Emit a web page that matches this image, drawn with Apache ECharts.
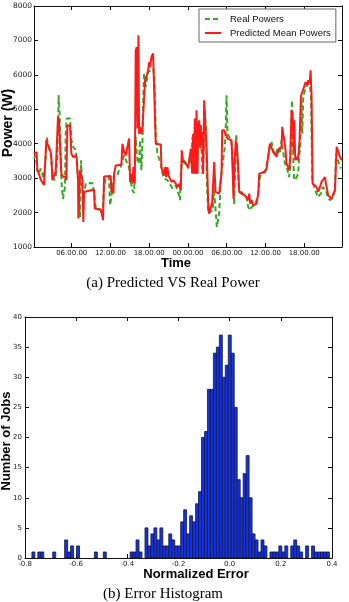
<!DOCTYPE html>
<html>
<head>
<meta charset="utf-8">
<script src="https://cdn.jsdelivr.net/npm/echarts@6/dist/echarts.min.js"></script>
<style>
html,body{margin:0;padding:0;background:#fff;}
#chart{width:349px;height:602px;}
</style>
</head>
<body>
<div id="chart"></div>
<script>
// ---------- Data: (a) Predicted VS Real Power ----------
const timeTickHours = [6, 12, 18, 24, 30, 36, 42];
const timeTickLabels = ['06.00.00', '12.00.00', '18.00.00', '00.00.00', '06.00.00', '12.00.00', '18.00.00'];

const realTimes = [0.16,0.42,0.68,0.93,1.19,1.45,1.71,1.97,2.12,2.33,2.48,2.74,3.0,3.26,3.52,3.78,3.98,4.14,4.29,4.45,4.65,4.81,4.96,5.07,5.22,5.48,5.74,5.95,6.25,6.46,6.67,6.77,6.98,7.13,7.29,7.44,7.65,7.91,8.17,9.2,9.46,9.72,10.49,10.75,11.01,11.27,11.78,11.94,12.14,12.35,12.56,13.07,13.33,13.59,13.85,14.11,14.62,14.88,15.14,15.4,15.66,15.91,16.17,16.43,16.59,16.79,16.95,17.1,17.2,17.46,17.62,17.83,17.98,18.24,18.5,18.65,18.86,19.01,19.27,19.53,19.79,20.05,20.3,20.56,20.82,21.08,21.34,21.6,21.85,22.11,22.37,22.63,22.78,22.89,23.04,23.4,23.92,
  24.03,24.29,24.55,24.7,24.8,24.96,25.06,25.22,25.37,25.48,25.58,25.73,25.89,26.1,26.25,26.41,26.61,26.77,26.92,27.13,27.85,28.01,28.16,28.32,28.47,28.68,28.83,28.99,29.09,29.3,29.51,29.71,29.87,29.97,30.12,30.38,30.64,30.85,31.0,31.16,31.31,31.47,31.67,31.88,32.19,32.55,32.81,33.07,33.33,33.59,33.84,34.1,34.36,34.62,34.88,35.14,35.39,35.65,36.01,36.43,36.68,36.94,37.2,37.46,37.72,37.98,38.23,38.49,38.65,38.91,39.11,39.42,39.63,39.79,39.94,40.1,40.25,40.41,40.56,40.82,41.08,41.23,41.39,41.54,41.7,41.85,42.11,42.37,42.62,42.88,43.04,43.25,43.56,43.82,44.07,44.33,44.59,44.85,45.1,45.36,45.62,45.98,46.24,46.5,46.76,46.92,47.17,47.38,47.69];
const realPowers = [3570,3660,3230,3130,3280,3130,2990,3610,4190,4000,3860,3710,3230,2940,3030,3610,5410,4780,3420,2790,2400,2360,2740,4290,4730,4680,4730,4100,3900,3860,3810,3520,2940,2260,1870,3520,2740,2550,2840,2860,2600,2120,2070,1920,2740,3030,3030,2210,2450,2790,3080,3080,3230,3320,3520,3660,3420,3320,2890,2650,2570,4200,3520,3420,4100,3230,4000,5450,6040,5650,5840,6080,6040,6130,6180,6180,5650,4290,3710,3660,3420,3130,2990,3030,2940,2890,2790,2700,2740,2790,2650,2500,2360,3130,3420,3520,3370,
  3280,3320,3620,4200,3320,3620,4490,3130,4290,3520,4200,4000,4490,3810,3130,3620,4970,4490,3030,1970,2070,2740,2360,1970,1580,1580,1970,2550,3030,3320,3620,3900,4580,5410,4290,4200,4100,3900,3030,2230,3320,4290,3620,2740,2600,2550,2600,2450,2160,2070,2160,2110,2210,2360,2550,3030,3130,3180,3230,3620,3910,4050,3810,3660,3710,3900,3710,4100,3900,3520,3370,3230,3030,3230,4000,5260,4000,3030,2940,3030,3130,3710,3810,5260,4290,5360,5550,5600,5750,5650,5450,2940,2740,2600,2450,2400,2550,2740,2790,2650,2450,2360,2310,2450,2650,3710,3760,3420,3280];

const predTimes = [0.16,0.57,0.68,0.93,1.19,1.71,1.97,2.07,2.23,2.48,2.74,2.85,3.0,3.26,3.52,3.78,3.88,4.03,4.29,4.40,4.71,5.07,5.17,5.33,5.58,5.74,5.95,6.25,6.62,6.77,6.98,7.03,7.13,7.29,7.49,7.65,7.8,7.91,8.17,9.46,9.56,10.49,10.65,10.85,11.01,12.04,12.14,12.3,12.45,12.56,12.81,13.69,13.85,14.11,14.36,14.62,14.88,15.04,15.14,15.4,15.55,15.76,15.91,16.07,16.17,16.33,16.43,16.59,16.79,16.95,17.2,17.36,17.62,17.83,17.98,18.14,18.34,18.6,18.86,19.01,19.79,19.89,20.15,20.3,20.46,20.61,20.82,20.98,21.23,21.44,21.75,22.11,22.37,22.63,22.89,23.04,23.25,23.66,
  24.03,24.29,24.44,24.65,24.8,24.96,25.06,25.22,25.32,25.48,25.58,25.73,25.89,25.99,26.1,26.25,26.35,26.51,26.72,26.92,27.13,27.28,27.54,27.75,27.9,28.06,28.16,28.27,28.83,29.04,29.2,29.3,29.61,29.82,30.12,30.74,30.9,31.05,31.16,31.42,31.57,31.78,31.93,32.29,32.81,33.07,33.33,33.48,33.64,33.84,34.1,34.62,34.88,35.03,35.91,36.17,36.43,36.68,36.94,37.2,37.46,37.72,37.98,38.23,38.49,38.6,38.75,38.91,39.06,39.27,39.53,39.68,39.84,40.04,40.2,40.35,40.46,40.61,40.82,40.97,41.13,41.28,41.39,41.49,41.59,41.8,42.01,42.21,42.42,42.62,42.83,42.99,43.14,43.3,43.56,43.92,44.17,44.43,44.69,44.95,45.21,45.47,45.72,45.98,46.24,46.5,46.76,47.02,47.27,47.53,47.79];
const predPowers = [3700,3760,3230,3130,2960,2800,2850,4100,4000,3900,3760,3610,2940,2890,3180,3130,4780,4680,4700,3130,3030,3030,2940,4530,4580,4530,3710,3610,3660,3570,2940,1830,1780,3230,3180,2940,1730,2600,2650,2670,2120,2090,1970,1780,3050,3060,2600,2740,2550,3130,3370,3390,4000,3760,3660,3620,4150,2890,3130,2840,3320,2840,6710,6810,4440,7150,4290,4490,4290,4440,4390,5840,5990,6130,6370,6230,6520,6620,6670,4000,3980,3320,3280,3080,3320,3030,3320,3080,3130,2890,2940,2840,2740,2840,2650,3810,3470,3420,
  3320,3350,3860,3130,4290,3130,4730,3130,4970,3130,4490,4680,3860,4540,4000,4340,3130,5260,5260,3710,2260,1970,2160,2310,2260,3470,3420,2600,2550,2550,3130,4390,4390,4340,4150,4100,3320,2400,3320,4100,3900,3320,2600,2550,2500,2450,2360,2550,2260,2360,2210,2260,2550,3130,3180,3280,3320,4000,4000,3760,3710,3620,3810,3760,3910,4490,4290,4100,3900,3420,3370,3230,3620,4970,4870,3810,4680,3520,3620,3520,3710,4100,4780,5360,5450,5550,5600,5790,5700,5840,5750,6130,5360,2840,2860,2740,2600,2650,2890,2840,3030,2740,2500,2450,2400,2550,2650,3910,3860,3620,3520];

// ---------- Data: (b) Error Histogram ----------
const histMin = -0.773;
const histMax = 0.39;
const histCounts = [1,0,1,1,0,0,0,1,0,0, 0,3,1,2,0,2,0,0,0,0, 0,1,0,0,1,0,0,0,0,0, 0,0,0,1,1,3,1,0,5,2, 4,5,3,5,2,2,4,3,2,2, 6,8,4,7,6,9,11,20,21,28, 28,34,35,37,30,32,37,34,25,13, 10,14,17,10,4,3,1,3,2,0, 1,1,1,2,1,2,0,2,3,2, 1,0,2,0,2,1,1,1,1,1];

const zip = (a, b) => a.map((t, i) => [t, b[i]]);
const binW = (histMax - histMin) / histCounts.length;
const histData = [];
histCounts.forEach((c, i) => { if (c > 0) histData.push([histMin + i * binW, histMin + (i + 1) * binW, c]); });

const tickFont = 'DejaVu Sans';
const axisCol = '#111';

const chart = echarts.init(document.getElementById('chart'), null, {renderer: 'canvas'});
const labelStyle = {fontFamily: tickFont, fontSize: 7.5, color: '#222'};
const frameAxis = (extra) => Object.assign({
  axisLine: {show: true, onZero: false, lineStyle: {color: axisCol, width: 1}},
  axisTick: {show: true, inside: true, length: 4, lineStyle: {color: axisCol}},
  splitLine: {show: false}
}, extra);
const tickCustom = {show: true, inside: true, length: 4, lineStyle: {color: axisCol}, customValues: timeTickHours};

chart.setOption({
  animation: false,
  backgroundColor: '#fff',
  grid: [
    {left: 34, right: 7, top: 6, height: 241},
    {left: 25, right: 17, top: 317, height: 241}
  ],
  legend: {
    data: ['Real Powers', 'Predicted Mean Powers'],
    orient: 'vertical',
    left: 199, top: 9,
    padding: [5, 5, 4, 5],
    itemWidth: 16, itemHeight: 10, itemGap: 4,
    itemStyle: {opacity: 0},
    backgroundColor: '#fff',
    borderColor: '#666', borderWidth: 1,
    textStyle: {fontFamily: 'Liberation Sans', fontSize: 9.5, color: '#111', lineHeight: 10, padding: [0, 0, 0, 4]}
  },
  xAxis: [
    frameAxis({type: 'value', gridIndex: 0, min: 0.16, max: 47.85, position: 'bottom',
      axisTick: tickCustom,
      axisLabel: Object.assign({}, labelStyle, {fontSize: 7, margin: 3, customValues: timeTickHours,
        formatter: v => timeTickLabels[timeTickHours.indexOf(v)] || ''})}),
    frameAxis({type: 'value', gridIndex: 0, min: 0.16, max: 47.85, position: 'top',
      axisTick: tickCustom,
      axisLabel: {show: false}}),
    frameAxis({type: 'value', gridIndex: 1, min: -0.8, max: 0.4, interval: 0.2, position: 'bottom',
      axisLabel: Object.assign({}, labelStyle, {fontSize: 7, margin: 3, formatter: v => v.toFixed(1)})}),
    frameAxis({type: 'value', gridIndex: 1, min: -0.8, max: 0.4, interval: 0.2, position: 'top',
      axisLabel: {show: false}})
  ],
  yAxis: [
    frameAxis({type: 'value', gridIndex: 0, min: 1000, max: 8000, interval: 1000, position: 'left',
      axisLabel: Object.assign({}, labelStyle, {margin: 2, formatter: v => String(v)})}),
    frameAxis({type: 'value', gridIndex: 0, min: 1000, max: 8000, interval: 1000, position: 'right',
      axisLabel: {show: false}}),
    frameAxis({type: 'value', gridIndex: 1, min: 0, max: 40, interval: 5, position: 'left',
      axisLabel: Object.assign({}, labelStyle, {fontSize: 7, margin: 3, formatter: v => String(v)})}),
    frameAxis({type: 'value', gridIndex: 1, min: 0, max: 40, interval: 5, position: 'right',
      axisLabel: {show: false}})
  ],
  series: [
    {name: 'Real Powers', type: 'line', xAxisIndex: 0, yAxisIndex: 0,
      data: zip(realTimes, realPowers), symbol: 'none', showSymbol: false,
      lineStyle: {color: '#35aa22', width: 2, type: [5, 3]}, itemStyle: {color: '#35aa22'}, z: 2},
    {name: 'Predicted Mean Powers', type: 'line', xAxisIndex: 0, yAxisIndex: 0,
      data: zip(predTimes, predPowers), symbol: 'none', showSymbol: false,
      lineStyle: {color: '#ff1a1a', width: 2}, itemStyle: {color: '#ff1a1a'}, z: 3},
    {name: 'hist', type: 'custom', xAxisIndex: 2, yAxisIndex: 2,
      encode: {x: [0, 1], y: 2},
      data: histData,
      renderItem: function (params, api) {
        const p0 = api.coord([api.value(0), api.value(2)]);
        const p1 = api.coord([api.value(1), 0]);
        return {type: 'rect', shape: {x: p0[0], y: p0[1], width: p1[0] - p0[0], height: p1[1] - p0[1]},
          style: {fill: '#1030f5', stroke: '#1a1a1a', lineWidth: 0.8}};
      }}
  ],
  graphic: [
    {type: 'text', x: 8.5, y: 123, rotation: Math.PI / 2,
      style: {text: 'Power (W)', font: 'bold 14px "Liberation Sans"', fill: '#000', textAlign: 'center', textVerticalAlign: 'middle'}},
    {type: 'text', x: 176, y: 263,
      style: {text: 'Time', font: 'bold 13px "Liberation Sans"', fill: '#000', textAlign: 'center', textVerticalAlign: 'middle'}},
    {type: 'text', x: 173, y: 283,
      style: {text: '(a) Predicted VS Real Power', font: '15px "Liberation Serif"', fill: '#000', textAlign: 'center', textVerticalAlign: 'middle'}},
    {type: 'text', x: 6, y: 441, rotation: Math.PI / 2,
      style: {text: 'Number of Jobs', font: 'bold 13px "Liberation Sans"', fill: '#000', textAlign: 'center', textVerticalAlign: 'middle'}},
    {type: 'text', x: 196, y: 574,
      style: {text: 'Normalized Error', font: 'bold 13px "Liberation Sans"', fill: '#000', textAlign: 'center', textVerticalAlign: 'middle'}},
    {type: 'text', x: 163, y: 594,
      style: {text: '(b) Error Histogram', font: '15px "Liberation Serif"', fill: '#000', textAlign: 'center', textVerticalAlign: 'middle'}}
  ]
});
</script>
</body>
</html>
